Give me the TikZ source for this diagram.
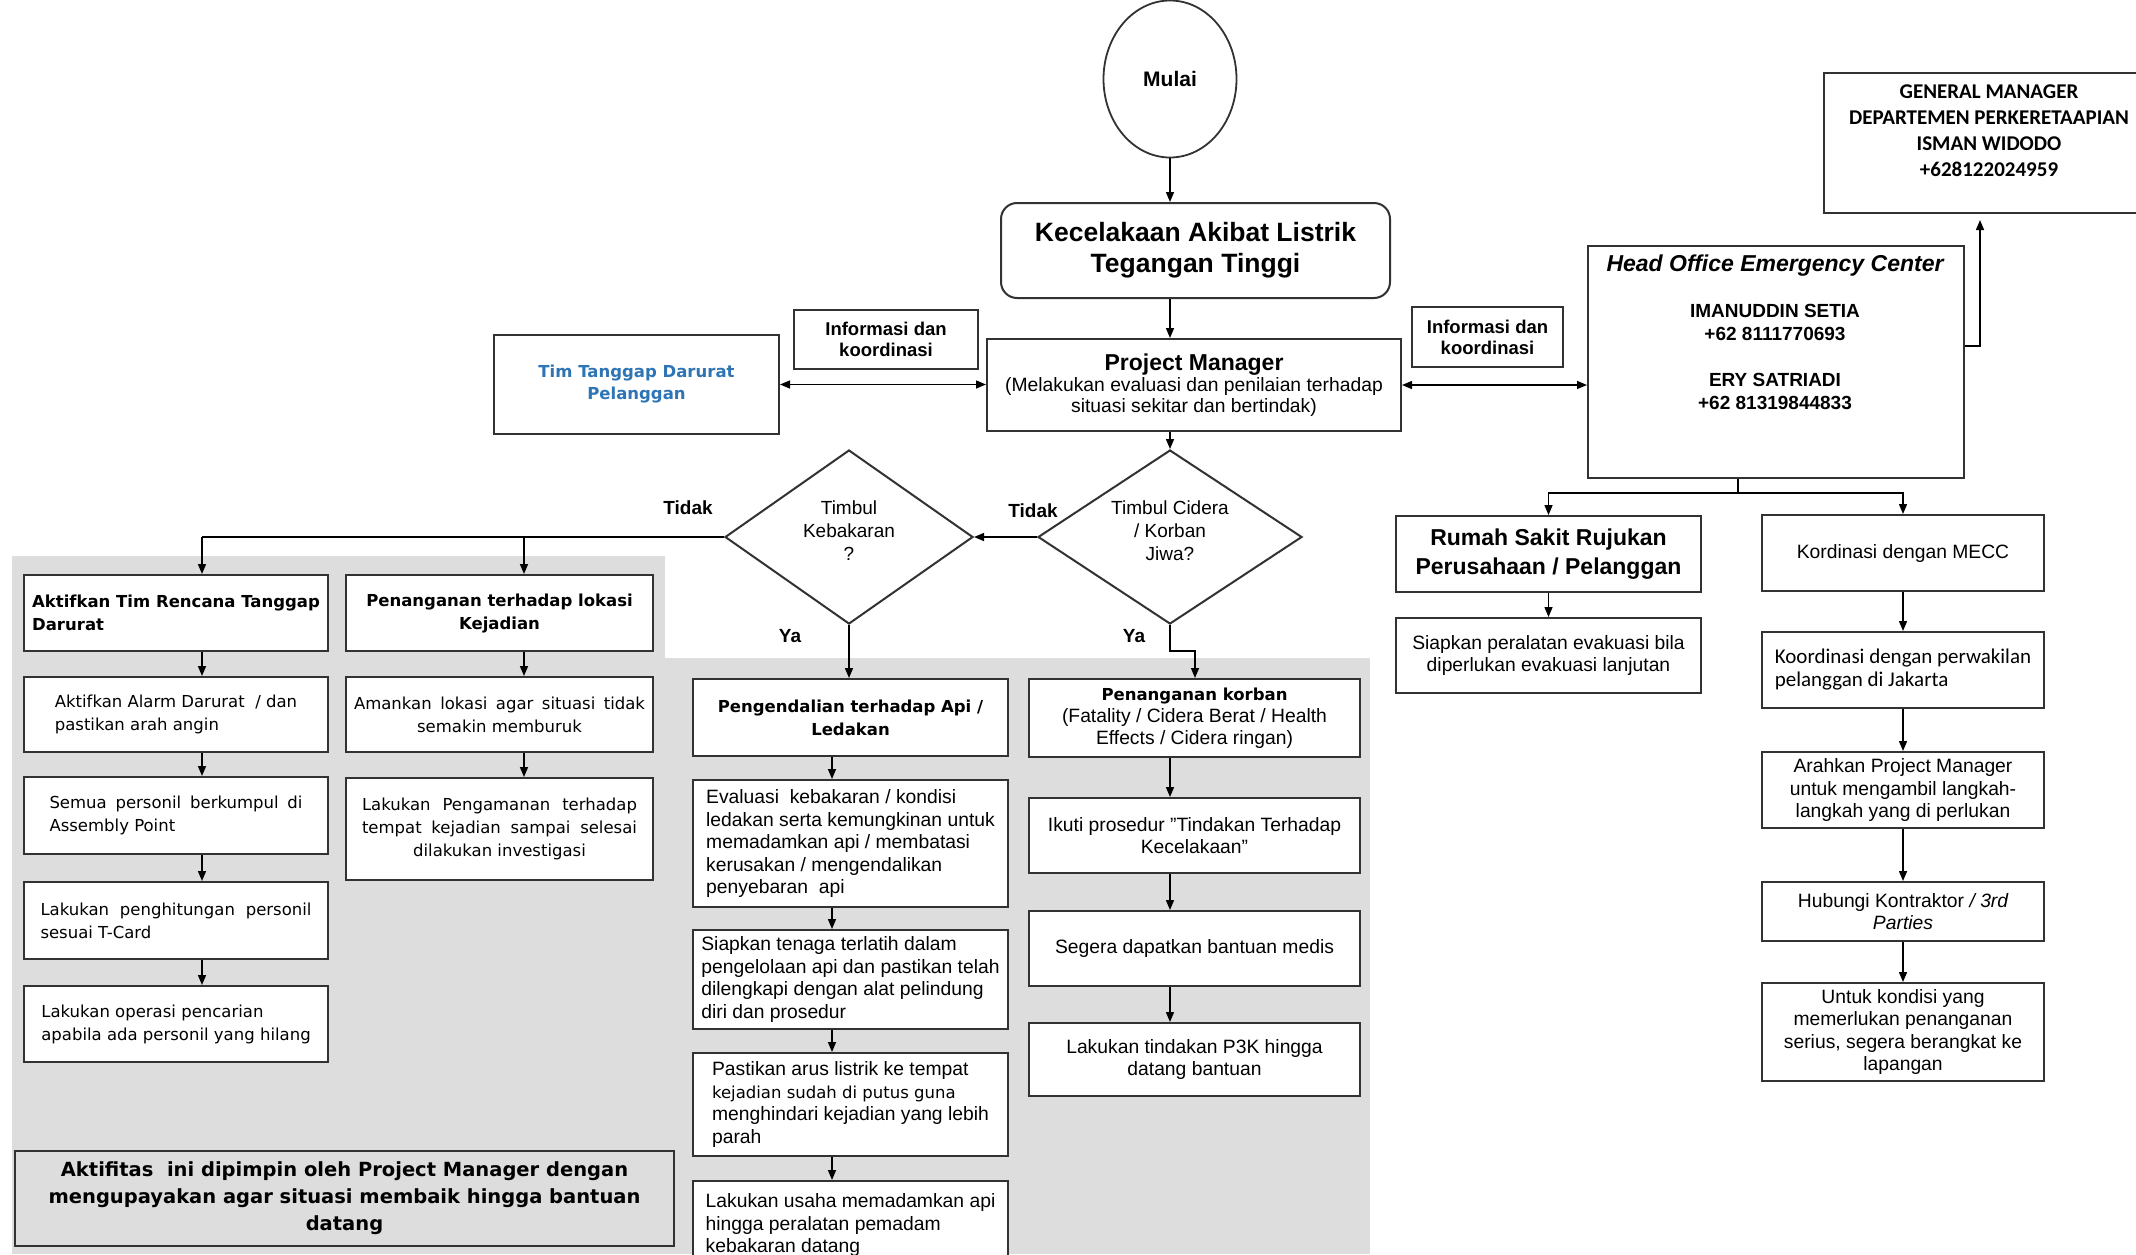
\documentclass[tikz,border=0pt]{standalone}
\usepackage{fontspec}
\setmainfont{Liberation Sans}
\newfontfamily\verd{DejaVu Sans}
\newfontfamily\cali{Carlito}
\usetikzlibrary{arrows.meta,shapes.geometric}
\definecolor{panel}{RGB}{221,221,221}
\definecolor{edge}{RGB}{50,50,50}
\definecolor{teamblue}{RGB}{46,117,182}
\newcommand\fs[2]{\fontsize{#1}{#2}\selectfont}
\newcommand\jl[2]{\makebox[#1][s]{#2}}

\begin{document}
\begin{tikzpicture}[x=1pt,y=-1pt,
  box/.style={draw=edge, line width=2pt, fill=white, inner sep=2pt, anchor=north west, align=center, font={\fs{19.3}{22.5}}},
  vbox/.style={box, font={\verd\fs{16.5}{23}}},
  dec/.style={diamond, draw=edge, line width=2pt, fill=white, aspect=1.5, inner sep=0pt},
  dectxt/.style={align=center, inner sep=0pt, font={\fs{19}{23}}},
  lbl/.style={font={\bfseries\fs{19}{22}}, inner sep=0pt},
  wire/.style={line width=1.5pt, draw=black},
  arr/.style={wire, -{Triangle[length=10pt,width=8pt]}},
  dbl/.style={wire, {Triangle[length=10pt,width=8pt]}-{Triangle[length=10pt,width=8pt]}},
]
\useasboundingbox (0,0) rectangle (2136,1254);
\fill[white] (0,0) rectangle (2136,1254);
% shaded working areas
\fill[panel] (12,556) rectangle (665,1254);
\fill[panel] (665,658) rectangle (1370,1254);

% ---------- top of the flow ----------
\node[ellipse, draw=edge, line width=1.8pt, fill=white, minimum width=133pt, minimum height=157pt, inner sep=0pt, font={\bfseries\fs{21}{24}}] (mulai) at (1170,79) {Mulai};

\node[box, minimum width=389pt, minimum height=95pt, rounded corners=16pt, font={\bfseries\fs{26.5}{31}}] (kec) at (1000,202) {Kecelakaan Akibat Listrik\\Tegangan Tinggi};

\node[box, minimum width=414pt, minimum height=92pt, font={\fs{19.3}{21}}] (pm) at (986,338) {{\bfseries\fs{23}{25}Project Manager}\\(Melakukan evaluasi dan penilaian terhadap\\situasi sekitar dan bertindak)};

\node[box, minimum width=184pt, minimum height=59pt, font={\bfseries\fs{18.5}{21}}] (infoL) at (793,309) {Informasi dan\\koordinasi};
\node[box, minimum width=285pt, minimum height=99pt, text=teamblue, font={\verd\bfseries\fs{16.5}{22}}] (tim) at (493,334) {Tim Tanggap Darurat\\Pelanggan};
\node[box, minimum width=151pt, minimum height=60pt, font={\bfseries\fs{18.5}{21}}] (infoR) at (1411,306) {Informasi dan\\koordinasi};

\node[box, minimum width=376pt, minimum height=232pt] (ho) at (1587,245) {};
\node[anchor=north, align=center, inner sep=0pt, font={\bfseries\fs{19}{23}}] (hotxt) at (1775,255) {{\itshape\fs{23}{26}Head Office Emergency Center}\\[23pt]IMANUDDIN SETIA\\+62 8111770693\\[23pt]ERY SATRIADI\\+62 81319844833};

\node[box, minimum width=335pt, minimum height=140pt] (gm) at (1823,72) {};
\node[align=center, inner sep=0pt, font={\cali\bfseries\fs{21}{26}}] (gmtxt) at (1989,131) {GENERAL MANAGER\\DEPARTEMEN PERKERETAAPIAN\\ISMAN WIDODO\\+628122024959};

% ---------- decisions ----------
\node[dec, minimum width=264pt, minimum height=174pt] (cid) at (1170,537) {};
\node[dectxt] (cidtxt) at (1170,531) {Timbul Cidera\\/ Korban\\Jiwa?};
\node[dec, minimum width=248pt, minimum height=174pt] (keb) at (849,537) {};
\node[dectxt] (kebtxt) at (849,531) {Timbul\\Kebakaran\\?};
\node[lbl] (tidakA) at (688,508) {Tidak};
\node[lbl] (tidakB) at (1033,511) {Tidak};
\node[lbl] (yaA) at (790,636) {Ya};
\node[lbl] (yaB) at (1134,636) {Ya};

% ---------- emergency plan column ----------
\node[vbox, align=left, minimum width=304pt, minimum height=76pt, font={\verd\bfseries\fs{16.5}{23}}] (l1) at (23,574) {Aktifkan Tim Rencana Tanggap\\Darurat};
\node[vbox, align=left, minimum width=304pt, minimum height=75pt] (l2) at (23,676) {Aktifkan Alarm Darurat\ \ / dan\\pastikan arah angin};
\node[vbox, align=left, minimum width=304pt, minimum height=77pt] (l3) at (23,776) {\jl{253pt}{Semua personil berkumpul di}\\Assembly Point};
\node[vbox, align=left, minimum width=304pt, minimum height=77pt] (l4) at (23,881) {\jl{271pt}{Lakukan penghitungan personil}\\sesuai T-Card};
\node[vbox, align=left, minimum width=304pt, minimum height=76pt] (l5) at (23,985) {Lakukan operasi pencarian\\apabila ada personil yang hilang};

% ---------- site handling column ----------
\node[vbox, minimum width=307pt, minimum height=76pt, font={\verd\bfseries\fs{16.5}{23}}] (c1) at (345,574) {Penanganan terhadap lokasi\\Kejadian};
\node[vbox, minimum width=307pt, minimum height=75pt] (c2) at (345,676) {\jl{291pt}{Amankan lokasi agar situasi tidak}\\semakin memburuk};
\node[vbox, minimum width=307pt, minimum height=102pt] (c3) at (345,777) {\jl{275pt}{Lakukan Pengamanan terhadap}\\\jl{275pt}{tempat kejadian sampai selesai}\\dilakukan investigasi};

\node[box, fill=panel, minimum width=659pt, minimum height=95pt, font={\verd\bfseries\fs{19.5}{27}}] (note) at (14,1150) {Aktifitas\ \ ini dipimpin oleh Project Manager dengan\\mengupayakan agar situasi membaik hingga bantuan\\datang};

% ---------- fire column ----------
\node[box, minimum width=315pt, minimum height=77pt, font={\verd\bfseries\fs{16.5}{23}}] (f1) at (692,678) {Pengendalian terhadap Api /\\Ledakan};
\node[box, align=left, minimum width=315pt, minimum height=127pt] (f2) at (692,779) {Evaluasi\ \ kebakaran / kondisi\\ledakan serta kemungkinan untuk\\memadamkan api / membatasi\\kerusakan / mengendalikan\\penyebaran\ \ api};
\node[box, align=left, minimum width=315pt, minimum height=99pt] (f3) at (692,929) {Siapkan tenaga terlatih dalam\\pengelolaan api dan pastikan telah\\dilengkapi dengan alat pelindung\\diri dan prosedur};
\node[box, align=left, minimum width=315pt, minimum height=103pt] (f4) at (692,1052) {Pastikan arus listrik ke tempat\\{\verd\fs{16.5}{22.5}kejadian sudah di putus guna}\\menghindari kejadian yang lebih\\parah};
\node[box, align=left, minimum width=315pt, minimum height=88pt] (f5) at (692,1180) {Lakukan usaha memadamkan api\\hingga peralatan pemadam\\kebakaran datang};

% ---------- casualty column ----------
\node[box, minimum width=331pt, minimum height=78pt, font={\fs{19.3}{22}}] (v1) at (1028,678) {{\verd\bfseries\fs{16.5}{22}Penanganan korban}\\(Fatality / Cidera Berat / Health\\Effects / Cidera ringan)};
\node[box, minimum width=331pt, minimum height=75pt] (v2) at (1028,797) {Ikuti prosedur "Tindakan Terhadap\\Kecelakaan"};
\node[box, minimum width=331pt, minimum height=75pt] (v3) at (1028,910) {Segera dapatkan bantuan medis};
\node[box, minimum width=331pt, minimum height=73pt] (v4) at (1028,1022) {Lakukan tindakan P3K hingga\\datang bantuan};

% ---------- head office branches ----------
\node[box, minimum width=305pt, minimum height=76pt, font={\bfseries\fs{23}{29}}] (rs) at (1395,515) {Rumah Sakit Rujukan\\Perusahaan / Pelanggan};
\node[box, minimum width=305pt, minimum height=75pt] (sp) at (1395,617) {Siapkan peralatan evakuasi bila\\diperlukan evakuasi lanjutan};
\node[box, minimum width=282pt, minimum height=76pt] (r1) at (1761,514) {Kordinasi dengan MECC};
\node[box, align=left, minimum width=282pt, minimum height=76pt, font={\cali\fs{21}{23}}] (r2) at (1761,631) {Koordinasi dengan perwakilan\\pelanggan di Jakarta};
\node[box, minimum width=282pt, minimum height=76pt] (r3) at (1761,751) {Arahkan Project Manager\\untuk mengambil langkah-\\langkah yang di perlukan};
\node[box, minimum width=282pt, minimum height=59pt] (r4) at (1761,881) {Hubungi Kontraktor {\itshape/ 3rd}\\{\itshape Parties}};
\node[box, minimum width=282pt, minimum height=98pt] (r5) at (1761,982) {Untuk kondisi yang\\memerlukan penanganan\\serius, segera berangkat ke\\lapangan};

% ---------- connectors ----------
\coordinate (colA) at (202,0);
\coordinate (colB) at (524,0);
\coordinate (colF) at (832,0);
\coordinate (colV) at (1170,0);
\coordinate (hobus) at (1738,493);
\coordinate (hojoin) at (0,346);
\coordinate (gmtip) at (1980,220);
\coordinate (vjog) at (1195,651);

\draw[arr] (mulai.south) -- (mulai.south |- kec.north);
\draw[arr] (kec.south -| mulai) -- (pm.north -| mulai);
\draw[arr] (pm.south -| mulai) -- (cid.north);
\draw[dbl] (tim.east) -- (tim.east -| pm.west);
\draw[dbl] (pm.east) -- (pm.east -| ho.west);
\draw[arr] (ho.east |- hojoin) -| (gmtip);
\draw[wire] (ho.south -| hobus) -- (hobus);
\draw[arr] (hobus) -| (rs.north);
\draw[arr] (hobus) -| (r1.north);
\draw[arr] (rs.south) -- (sp.north);
\foreach \a/\b in {r1/r2,r2/r3,r3/r4,r4/r5}
  \draw[arr] (\a.south) -- (\b.north);

\draw[arr] (cid.west) -- (keb.east);
\draw[wire] (keb.west) -- (keb.west -| colA);
\draw[arr] (keb.west -| colA) -- (l1.north -| colA);
\draw[arr] (keb.west -| colB) -- (c1.north -| colB);
\draw[arr] (keb.south) -- (keb.south |- f1.north);
\draw[arr] (cid.south) |- (vjog) -- (vjog |- v1.north);

\foreach \a/\b in {l1/l2,l2/l3,l3/l4,l4/l5}
  \draw[arr] (\a.south -| colA) -- (\b.north -| colA);
\foreach \a/\b in {c1/c2,c2/c3}
  \draw[arr] (\a.south -| colB) -- (\b.north -| colB);
\foreach \a/\b in {f1/f2,f2/f3,f3/f4,f4/f5}
  \draw[arr] (\a.south -| colF) -- (\b.north -| colF);
\foreach \a/\b in {v1/v2,v2/v3,v3/v4}
  \draw[arr] (\a.south -| colV) -- (\b.north -| colV);
\end{tikzpicture}
\end{document}
